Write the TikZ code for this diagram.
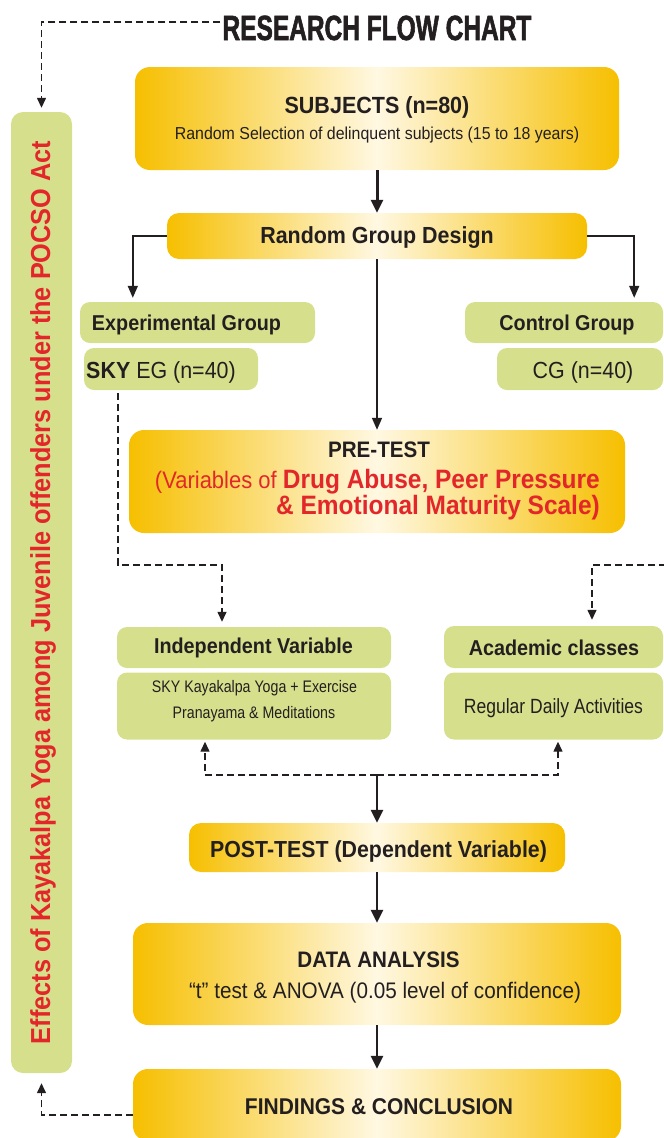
\documentclass[tikz,border=0pt]{standalone}
\usepackage{fontspec}
\setmainfont{Liberation Sans}[FakeStretch=0.92]
\newfontfamily\titlefont{Liberation Sans}[FakeStretch=0.70,FakeBold=1.6]
\newfontfamily\narrowfont{Liberation Sans}[FakeStretch=0.85]
\usetikzlibrary{arrows.meta}
\definecolor{ink}{HTML}{231F20}
\definecolor{gold}{HTML}{F6BF00}
\definecolor{goldmid}{HTML}{FFF8E2}
\definecolor{leaf}{HTML}{D6E08C}
\definecolor{redtxt}{HTML}{E3262A}
\newcommand{\fsz}[1]{\fontsize{#1}{#1}\selectfont}
\begin{document}
\begin{tikzpicture}[x=1pt,y=-1pt,
  goldbox/.style={rounded corners=15pt, left color=gold, right color=gold, middle color=goldmid, draw=none, inner sep=0pt},
  greenbox/.style={rounded corners=10pt, fill=leaf, draw=none, inner sep=0pt},
  txt/.style={text=ink, inner sep=0pt},
  solidarrow/.style={draw=ink, line width=2.4pt, -{Triangle[width=12pt,length=13pt]}},
  thinarrow/.style={draw=ink, line width=1.6pt, -{Triangle[width=10pt,length=12pt]}},
  dasharrow/.style={draw=ink, line width=1.4pt, dash pattern=on 7pt off 4pt, -{Triangle[width=9pt,length=10pt]}},
]
\useasboundingbox (0,0) rectangle (664,1138);
\clip (0,0) rectangle (664,1138);

% title
\node[txt,anchor=base] (ttl) at (377,40) {\titlefont\bfseries\fsz{35}RESEARCH FLOW CHART};

% side bar
\node[greenbox, rounded corners=12pt, minimum width=61pt, minimum height=961pt] (bar) at (41.5,592.5) {};
\node[inner sep=0pt, text=redtxt, rotate=90] (barT) at (43,592.5) {\bfseries\fsz{27.5}Effects of Kayakalpa Yoga among Juvenile offenders under the POCSO Act};

% subjects
\node[goldbox, minimum width=484pt, minimum height=103pt] (subj) at (377,118.5) {};
\node[txt,anchor=base] (subjT) at (377,113) {\bfseries\fsz{23.4}SUBJECTS (n=80)};
\node[txt,anchor=base] (subjS) at (377,139) {\fsz{17.3}Random Selection of delinquent subjects (15 to 18 years)};

% random group design
\node[goldbox, rounded corners=12pt, minimum width=420pt, minimum height=46pt] (rgd) at (377,236) {};
\node[txt,anchor=base] (rgdT) at (377,243) {\bfseries\fsz{23.3}Random Group Design};

% groups
\node[greenbox, minimum width=235pt, minimum height=41pt] (exp) at (197.5,322.5) {};
\node[txt,anchor=base] (expT) at (186.5,330) {\bfseries\fsz{21.5}Experimental Group};
\node[greenbox, minimum width=174pt, minimum height=42pt] (sky) at (171,369) {};
\node[txt,anchor=base] (skyT) at (161,378) {\fsz{23.3}{\bfseries SKY} EG (n=40)};
\node[greenbox, minimum width=198pt, minimum height=41pt] (ctrl) at (564,322.5) {};
\node[txt,anchor=base] (ctrlT) at (567,330) {\bfseries\fsz{21.5}Control Group};
\node[greenbox, minimum width=166pt, minimum height=42pt] (cg) at (580,369) {};
\node[txt,anchor=base] (cgT) at (583,378) {\fsz{23.3}CG (n=40)};

% pre-test
\node[goldbox, minimum width=496pt, minimum height=103pt] (pre) at (377,481.5) {};
\node[txt,anchor=base] (preT) at (379,457) {\bfseries\fsz{22.4}PRE-TEST};
\node[inner sep=0pt, text=redtxt, anchor=base east] (preA) at (600,488) {{\fsz{23.9}(Variables of }{\bfseries\fsz{26.6}Drug Abuse, Peer Pressure}};
\node[inner sep=0pt, text=redtxt, anchor=base east] (preB) at (600,514) {\bfseries\fsz{26.6}\& Emotional Maturity Scale)};

% independent variable / academic classes
\node[greenbox, minimum width=274pt, minimum height=41pt] (indep) at (254,647.5) {};
\node[txt,anchor=base] (indepT) at (253.5,653) {\bfseries\fsz{21.5}Independent Variable};
\node[greenbox, minimum width=274pt, minimum height=67pt] (indepB) at (254,706) {};
\node[txt,anchor=base] (indepB1) at (254.5,692) {\narrowfont\fsz{16.7}SKY Kayakalpa Yoga + Exercise};
\node[txt,anchor=base] (indepB2) at (254,718) {\narrowfont\fsz{16.7}Pranayama \& Meditations};
\node[greenbox, minimum width=219pt, minimum height=42pt] (acad) at (553.5,647) {};
\node[txt,anchor=base] (acadT) at (554,655) {\bfseries\fsz{21.5}Academic classes};
\node[greenbox, minimum width=219pt, minimum height=67pt] (reg) at (553.5,706) {};
\node[txt,anchor=base] (regT) at (553.5,713) {\narrowfont\fsz{20.6}Regular Daily Activities};

% post-test, analysis, findings
\node[goldbox, rounded corners=12pt, minimum width=376pt, minimum height=49pt] (post) at (377,847.5) {};
\node[txt,anchor=base] (postT) at (378.5,857) {\bfseries\fsz{23.2}POST-TEST (Dependent Variable)};
\node[goldbox, minimum width=488pt, minimum height=102pt] (data) at (377,974) {};
\node[txt,anchor=base] (dataT) at (378.5,967) {\bfseries\fsz{22.4}DATA ANALYSIS};
\node[txt,anchor=base] (dataS) at (385,998) {\fsz{22.5}“t” test \& ANOVA (0.05 level of confidence)};
\node[goldbox, minimum width=488pt, minimum height=72pt] (find) at (377,1105) {};
\node[txt,anchor=base] (findT) at (379,1114) {\bfseries\fsz{22.8}FINDINGS \& CONCLUSION};

% coordinates for connectors
\coordinate (dl) at (222,565);
\coordinate (dr0) at (666,565);
\coordinate (dr) at (592,565);
\coordinate (jn) at (377,775);
\coordinate (jl) at (205,775);
\coordinate (jr) at (558,775);

% solid connectors
\draw[solidarrow, line width=3pt] (subj.south) -- (rgd.north);
\draw[thinarrow, shorten >=4pt] (rgd.west) -| ([xshift=53pt]exp.north west);
\draw[thinarrow, shorten >=4pt] (rgd.east) -| ([xshift=-29pt]ctrl.north east);
\draw[thinarrow] (rgd.south) -- (pre.north);
\draw[solidarrow] (jn) -- (post.north);
\draw[solidarrow] (post.south) -- (data.north);
\draw[solidarrow] (data.south) -- (find.north);

% dashed connectors
\draw[dasharrow, shorten >=4pt] ([xshift=-2pt,yshift=6pt]ttl.west) -| (bar.north);
\draw[dasharrow, shorten >=5pt] ([xshift=34pt,yshift=-3pt]sky.south west) |- (dl) -- (dl |- indep.north);
\draw[dasharrow, shorten >=6pt] (dr0) -- (dr) -- (dr |- acad.north);
\draw[dasharrow, shorten >=2pt] (jn) -- (jl) -- (jl |- indepB.south);
\draw[dasharrow, shorten >=2pt] (jn) -- (jr) -- (jr |- reg.south);
\draw[dasharrow, shorten >=10pt] ([yshift=-10pt]find.west) -| (bar.south);
\end{tikzpicture}
\end{document}
